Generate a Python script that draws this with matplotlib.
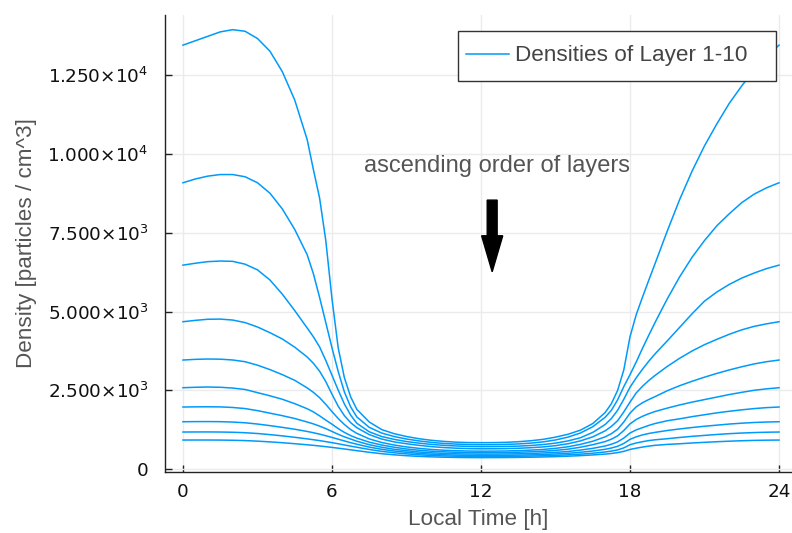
import matplotlib
matplotlib.use("Agg")
import matplotlib.pyplot as plt
from matplotlib.patches import Rectangle

hours = [0, 0.5, 1, 1.5, 2, 2.5, 3, 3.5, 4, 4.5, 5,
         5.25, 5.5, 5.75, 6, 6.25, 6.5, 6.75, 7,
         7.5, 8, 8.5, 9, 9.5, 10, 10.5, 11, 11.5, 12, 12.5, 13, 13.5, 14, 14.5, 15, 15.5, 16, 16.5, 17,
         17.25, 17.5, 17.75, 18, 18.25, 18.5, 18.75, 19,
         19.5, 20, 20.5, 21, 21.5, 22, 22.5, 23, 23.5, 24]

layer1 = [13440, 13580, 13720, 13860, 13930, 13880, 13650, 13250, 12600, 11700, 10450,
          9500, 8600, 7250, 5400, 3850, 2900, 2300, 1900,
          1500, 1260, 1130, 1040, 970, 920, 885, 860, 848, 845, 847, 855, 875, 905, 950, 1020, 1110, 1240, 1450, 1800,
          2080, 2500, 3150, 4200, 4900, 5450, 5980, 6500,
          7550, 8550, 9450, 10250, 10950, 11600, 12150, 12650, 13080, 13440]
layer2 = [9080, 9200, 9290, 9340, 9340, 9270, 9080, 8750, 8250, 7600, 6800,
          6200, 5450, 4650, 3850, 3100, 2450, 1980, 1660,
          1330, 1150, 1040, 960, 900, 855, 820, 800, 785, 780, 782, 790, 805, 830, 870, 930, 1020, 1150, 1350, 1650,
          1870, 2200, 2620, 3000, 3400, 3830, 4240, 4640,
          5400, 6100, 6720, 7250, 7720, 8100, 8450, 8720, 8920, 9080]
layer3 = [6470, 6530, 6580, 6600, 6590, 6500, 6320, 6000, 5550, 5030, 4480,
          4200, 3880, 3450, 2980, 2510, 2070, 1720, 1460,
          1190, 1040, 950, 880, 830, 790, 760, 740, 725, 718, 720, 725, 735, 755, 785, 830, 900, 1000, 1170, 1420,
          1610, 1870, 2220, 2600, 2900, 3170, 3420, 3650,
          4070, 4500, 4930, 5330, 5620, 5860, 6060, 6220, 6360, 6470]
layer4 = [4677, 4720, 4755, 4760, 4730, 4650, 4510, 4330, 4130, 3870, 3560,
          3360, 3110, 2780, 2380, 2000, 1700, 1480, 1320,
          1100, 960, 870, 810, 760, 720, 690, 670, 657, 650, 652, 657, 667, 685, 710, 750, 810, 900, 1030, 1220,
          1360, 1540, 1820, 2130, 2420, 2630, 2810, 2970,
          3260, 3520, 3750, 3950, 4120, 4280, 4420, 4530, 4610, 4677]
layer5 = [3463, 3485, 3495, 3490, 3465, 3410, 3300, 3160, 3000, 2820, 2580,
          2440, 2270, 2060, 1830, 1610, 1420, 1260, 1140,
          965, 850, 770, 710, 665, 630, 605, 590, 580, 575, 577, 582, 592, 608, 630, 665, 715, 790, 890, 1030,
          1130, 1270, 1500, 1780, 1980, 2110, 2210, 2300,
          2490, 2650, 2790, 2920, 3040, 3150, 3250, 3340, 3410, 3463]
layer6 = [2586, 2600, 2608, 2600, 2575, 2530, 2430, 2330, 2220, 2080, 1920,
          1820, 1695, 1560, 1430, 1290, 1170, 1070, 990,
          860, 770, 700, 645, 605, 575, 555, 540, 532, 528, 530, 534, 542, 555, 573, 600, 638, 700, 780, 880,
          955, 1060, 1230, 1440, 1580, 1680, 1760, 1830,
          1940, 2040, 2130, 2210, 2290, 2370, 2440, 2505, 2550, 2586]
layer7 = [1974, 1980, 1982, 1978, 1960, 1925, 1860, 1780, 1700, 1610, 1500,
          1440, 1370, 1290, 1200, 1110, 1030, 960, 890,
          780, 700, 635, 590, 550, 525, 505, 492, 485, 482, 483, 487, 493, 503, 518, 538, 565, 610, 665, 740,
          795, 870, 990, 1150, 1250, 1320, 1390, 1450,
          1540, 1600, 1670, 1730, 1790, 1840, 1885, 1925, 1955, 1974]
layer8 = [1508, 1512, 1513, 1510, 1498, 1475, 1435, 1385, 1330, 1270, 1200,
          1160, 1115, 1065, 1010, 955, 900, 845, 795,
          705, 635, 580, 540, 505, 480, 462, 450, 443, 440, 441, 444, 450, 458, 470, 487, 508, 540, 580, 635,
          675, 730, 820, 950, 1030, 1090, 1135, 1170,
          1230, 1280, 1325, 1365, 1400, 1435, 1462, 1484, 1499, 1508]
layer9 = [1182, 1184, 1185, 1182, 1175, 1160, 1135, 1100, 1060, 1015, 965,
          938, 910, 878, 845, 810, 772, 735, 700,
          630, 570, 525, 490, 460, 440, 425, 415, 409, 406, 407, 410, 414, 421, 430, 443, 460, 480, 510, 550,
          578, 615, 680, 780, 835, 875, 910, 935,
          970, 1010, 1045, 1075, 1105, 1130, 1150, 1165, 1176, 1182]
layer10 = [928, 929, 929, 927, 921, 911, 893, 870, 843, 812, 778,
           760, 740, 718, 695, 670, 645, 618, 592,
           540, 495, 460, 432, 410, 395, 384, 377, 373, 371, 372, 374, 378, 384, 392, 402, 416, 434, 456, 483,
           502, 530, 570, 630, 670, 705, 735, 760,
           790, 810, 835, 855, 875, 892, 906, 917, 924, 928]

layers = [layer1, layer2, layer3, layer4, layer5, layer6, layer7, layer8, layer9, layer10]

xticks = [0, 6, 12, 18, 24]
yticks = [0, 2500, 5000, 7500, 10000, 12500]
ytick_labels = ["0", "2.500×10$^{3}$", "5.000×10$^{3}$", "7.500×10$^{3}$",
                "1.000×10$^{4}$", "1.250×10$^{4}$"]

legend_label = "Densities of Layer 1-10"
annotation_text = "ascending order of layers"
xlabel = "Local Time [h]"
ylabel = "Density [particles / cm^3]"

W, H = 792, 533
fig = plt.figure(figsize=(W / 100, H / 100), dpi=100)
left_px, right_px, top_px, bottom_px = 165.1, 796.9, 15.0, 471.7
ax = fig.add_axes([left_px / W, 1 - bottom_px / H, (right_px - left_px) / W, (bottom_px - top_px) / H])

color = "#009AFA"
for i, lay in enumerate(layers):
    ax.plot(hours, lay, color=color, lw=1.1, label=legend_label if i == 0 else None, zorder=3)

ax.set_xlim(-0.72, 24.72)
ax.set_ylim(-75, 14395)

ax.set_xticks(xticks)
ax.set_xticklabels([str(t) for t in xticks])
ax.set_yticks(yticks)
ax.set_yticklabels(ytick_labels)

for s in ["top", "right"]:
    ax.spines[s].set_visible(False)
for s in ["left", "bottom"]:
    ax.spines[s].set_color("#222222")
    ax.spines[s].set_linewidth(1.0)

ax.tick_params(axis="both", direction="in", length=5, width=1, color="#222222",
               labelsize=13.2, labelcolor="#111111")
ax.tick_params(axis="y", pad=12)
ax.tick_params(axis="x", pad=8)
ax.grid(True, color="#ebebeb", lw=1.0, zorder=0)
ax.set_axisbelow(True)

lab_font = dict(family=["Liberation Sans", "DejaVu Sans"], size=16.2, color="#555555")
ax.set_xlabel(xlabel, **lab_font)
ax.set_ylabel(ylabel, **lab_font)
ax.xaxis.set_label_coords(0.495, -0.082)
ax.yaxis.set_label_coords((37 - left_px) / (right_px - left_px), 0.5)

# legend frame (drawn as a box) and legend entries
ax.add_patch(Rectangle((458 / W, 1 - 81 / H), 318 / W, 50 / H, transform=fig.transFigure,
                       facecolor="white", edgecolor="#333333", lw=1.0, zorder=5, clip_on=False))
leg = ax.legend(loc="center left", bbox_to_anchor=(466 / W, 1 - 56 / H),
                bbox_transform=fig.transFigure, borderaxespad=0, borderpad=0,
                prop={"family": ["Liberation Sans", "DejaVu Sans"], "size": 16.2},
                frameon=False, handlelength=1.9, handletextpad=0.3)
leg.set_zorder(6)
for t in leg.get_texts():
    t.set_color("#444444")

ax.text(12.65, 9610, annotation_text, ha="center", va="center",
        family=["Liberation Sans", "DejaVu Sans"], size=17, color="#555555")
ax.arrow(12.45, 8530, 0, 6260 - 8530, width=0.4, head_width=0.85, head_length=1140,
         length_includes_head=True, color="black", zorder=4)

fig.savefig("out.png", dpi=100)
